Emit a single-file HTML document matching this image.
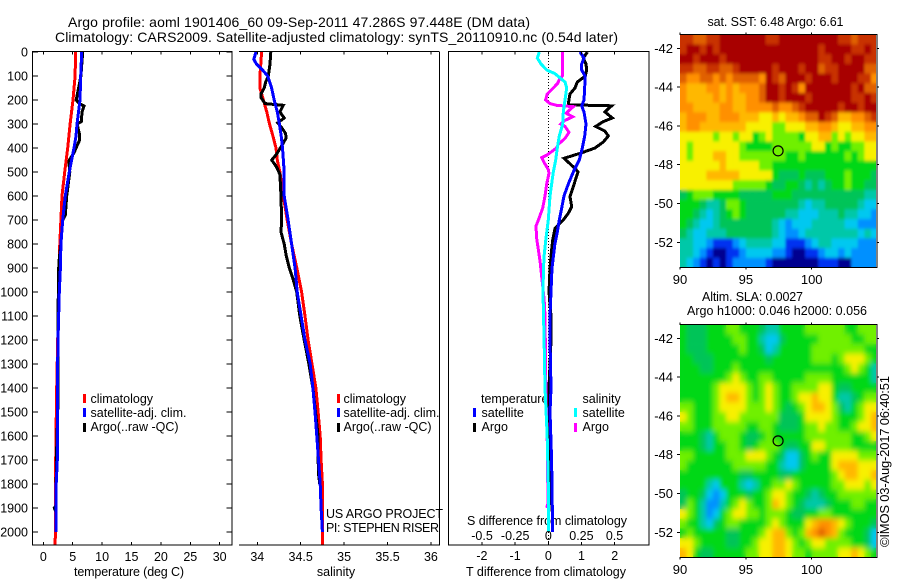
<!DOCTYPE html>
<html>
<head>
<meta charset="utf-8">
<title>Argo profile</title>
<style>
html,body{margin:0;padding:0;background:#fff;}
svg{display:block;font-family:"Liberation Sans",sans-serif;}
text{fill:#000;font-size:12.5px;}
</style>
</head>
<body>
<svg id="chart" width="900" height="580" viewBox="0 0 900 580" xmlns="http://www.w3.org/2000/svg">
<defs>
<filter id="sst-smooth" filterUnits="userSpaceOnUse" x="660" y="15" width="240" height="272"><feGaussianBlur stdDeviation="1.4 1.7"/></filter>
<filter id="sla-smooth" filterUnits="userSpaceOnUse" x="660" y="305" width="240" height="272"><feGaussianBlur stdDeviation="2.4 3"/></filter>
<clipPath id="sst-clip"><rect x="680" y="35" width="196" height="232"/></clipPath>
<clipPath id="sla-clip"><rect x="680" y="325" width="196" height="232"/></clipPath>
</defs>
<rect width="900" height="580" fill="#fff"/>
<text x="68" y="27" style="font-size:14px" textLength="462">Argo profile: aoml 1901406_60 09-Sep-2011 47.286S 97.448E (DM data)</text>
<text x="55" y="42" style="font-size:14px" textLength="563">Climatology: CARS2009. Satellite-adjusted climatology: synTS_20110910.nc (0.54d later)</text>
<text x="129" y="576" text-anchor="middle" textLength="110">temperature (deg C)</text>
<text x="336" y="576" text-anchor="middle">salinity</text>
<text x="546" y="576" text-anchor="middle" textLength="160">T difference from climatology</text>
<text x="547" y="525" text-anchor="middle" textLength="160">S difference from climatology</text>
<text x="90.5" y="403">climatology</text>
<text x="90.5" y="417" textLength="96">satellite-adj. clim.</text>
<text x="90.5" y="431" textLength="88">Argo(..raw -QC)</text>
<text x="343.5" y="403">climatology</text>
<text x="343.5" y="417" textLength="96">satellite-adj. clim.</text>
<text x="343.5" y="431" textLength="88">Argo(..raw -QC)</text>
<text x="481" y="403">temperature</text>
<text x="582.5" y="403">salinity</text>
<text x="481.5" y="417">satellite</text>
<text x="481.5" y="431">Argo</text>
<text x="582.5" y="417">satellite</text>
<text x="582.5" y="431">Argo</text>
<text x="326" y="518" textLength="117">US ARGO PROJECT</text>
<text x="326" y="532" textLength="113">PI: STEPHEN RISER</text>
<text x="707.5" y="26" textLength="136">sat. SST: 6.48 Argo: 6.61</text>
<text x="702" y="301" textLength="101">Altim. SLA: 0.0027</text>
<text x="687" y="315" textLength="180">Argo h1000: 0.046 h2000: 0.056</text>
<text transform="translate(889,547) rotate(-90)" style="font-size:13px" textLength="171">©IMOS 03-Aug-2017 06:40:51</text>
</svg>
<script>
// ---------- shared axis values ----------
const depthTicks = [0,100,200,300,400,500,600,700,800,900,1000,1100,1200,1300,1400,1500,1600,1700,1800,1900,2000];
const tempTicks = [0,5,10,15,20,25,30];
const salTicks = [34,34.5,35,35.5,36];
const salTickLabels = ['34','34.5','35','35.5','36'];
const tDiffTicks = [-2,-1,0,1,2];
const sDiffTicks = [-0.5,-0.25,0,0.25,0.5];
const sDiffTickLabels = ['-0.5','-0.25','0','0.25','0.5'];
const lonTicks = [90,95,100];
const latTicks = [42,44,46,48,50,52];

// ---------- temperature profile ----------
const tClimDepth = [0,100,200,300,400,500,600,700,800,900,1000,1200,1400,1650,2000,2054];
const tClim = [5.5,5.4,5.05,4.55,4.15,3.64,3.18,3.0,2.8,2.67,2.62,2.45,2.28,2.12,2.05,2.0];
const tSatDepth = [0,100,200,300,350,400,500,600,700,800,900,1000,1200,1400,1700,1800,2000];
const tSat = [6.53,6.36,6.24,5.73,5.56,5.22,4.42,3.74,3.3,3.0,2.9,2.72,2.5,2.38,2.38,2.2,2.2];
const tArgoDepth = [0,100,150,200,215,225,250,290,300,340,370,400,420,450,460,500,600,680,700,800,860,900,1000,1200,1450,1700,1850,1890,1900,1915];
const tArgo = [6.7,6.4,6.0,5.6,6.1,6.92,6.58,6.46,5.75,6.12,6.12,5.56,5.22,4.42,4.35,4.5,3.98,3.75,3.3,3.0,2.72,2.62,2.55,2.5,2.5,2.22,2.18,2.15,1.87,2.15];

// ---------- salinity profile ----------
const sClimDepth = [0,50,100,150,200,250,300,350,400,450,500,600,700,800,900,1000,1100,1200,1300,1400,1500,1600,1700,1800,2054];
const sClim = [34.05,34.04,34.03,34.03,34.07,34.11,34.14,34.18,34.215,34.23,34.26,34.3,34.345,34.395,34.455,34.51,34.55,34.585,34.63,34.675,34.7,34.725,34.735,34.75,34.75];
const sSatDepth = [0,30,50,75,100,150,200,250,300,350,400,500,600,700,800,900,1000,1100,1200,1300,1400,1500,1600,1700,1800,1900,2000];
const sSat = [33.985,33.96,33.99,34.06,34.12,34.165,34.195,34.23,34.255,34.275,34.29,34.31,34.31,34.355,34.395,34.435,34.46,34.505,34.55,34.61,34.64,34.665,34.685,34.705,34.725,34.735,34.75];
const sArgoDepth = [0,50,100,125,150,175,190,215,222,250,275,295,315,340,360,385,425,450,480,510,600,700,750,800,850,900,950,1000,1100,1200,1300,1400,1600,1750,1800];
const sArgo = [34.155,34.146,34.127,34.097,34.08,34.043,34.043,34.09,34.3,34.26,34.31,34.235,34.28,34.327,34.33,34.29,34.223,34.166,34.223,34.26,34.273,34.28,34.273,34.31,34.334,34.369,34.415,34.454,34.49,34.54,34.595,34.64,34.7,34.703,34.72];

// ---------- difference profiles ----------
const dTSatDepth = [0,25,50,75,100,150,200,225,250,300,350,400,450,500,550,600,650,700,750,800,900,1000,1100,1200,1400,1500,1700,1900,2000];
const dTSat = [0.955,1.075,1.006,1.006,1.105,1.096,1.075,1.006,1.075,1.135,1.096,1.024,0.934,0.753,0.602,0.473,0.404,0.331,0.271,0.2,0.11,0.08,0.05,0.05,0.08,0.05,0.1,0.12,0.12];
const dTArgoDepth = [0,25,50,75,100,125,150,175,190,220,224,236,250,275,290,310,330,350,375,400,420,443,485,499,561,603,644,672,700,735,783,850,900,1000,1100,1200,1400,1500,1750,1915];
const dTArgo = [1.175,1.054,1.136,1.157,1.114,0.873,0.804,0.654,0.633,0.6,1.91,1.807,1.708,1.928,1.657,1.428,1.708,1.807,1.657,1.407,1.006,0.473,0.804,0.895,0.753,0.654,0.705,0.602,0.452,0.202,0.133,0.08,0.05,0.02,0.08,0.08,0.02,0.01,0.02,0.02];
const dSArgoDepth = [0,100,115,130,150,175,200,215,222,228,240,255,270,285,300,310,335,360,385,400,430,440,460,490,505,550,600,650,700,725,775,870,1030,1100,1450,1600,1880,1900];
const dSArgo = [0.106,0.106,0.083,0.071,0.038,-0.008,-0.02,0.013,0.063,0.189,0.164,0.134,0.184,0.126,0.094,0.126,0.156,0.126,0.075,0.063,-0.012,-0.05,-0.032,0,0.005,-0.012,-0.025,-0.042,-0.075,-0.093,-0.088,-0.063,-0.032,-0.025,-0.017,-0.008,-0.002,-0.012];
const dSSatDepth = [0,25,50,75,90,125,150,200,250,300,350,400,450,500,600,700,775,850,900,1000,1200,1400,1600,1800,2000];
const dSSat = [-0.068,-0.083,-0.055,-0.012,0.05,0.126,0.139,0.126,0.113,0.109,0.083,0.068,0.056,0.038,0.013,0,-0.017,-0.032,-0.036,-0.04,-0.032,-0.025,-0.008,0,0.001];

// ---------- maps ----------
const floatLon = 97.448;
const floatLat = 47.286;
const sstLevels = [
[12,12,11,11,12,12,13,13,13,13,13,13,13,12,12,13,13,13,13,13,13,13,13,13,12,12,11,12,12,12],
[12,13,13,12,13,12,13,13,13,13,13,13,13,13,13,13,13,13,13,13,13,12,13,13,13,13,12,12,13,12],
[13,13,12,13,13,13,12,13,13,13,13,13,13,13,13,13,13,13,13,13,13,12,12,13,13,12,13,13,12,12],
[12,12,11,11,12,12,11,11,12,13,13,13,13,13,12,13,13,13,12,13,13,11,12,12,13,13,13,13,11,11],
[11,10,10,11,11,10,11,10,11,11,11,11,10,13,12,11,13,13,13,12,13,13,13,12,13,13,13,12,12,10],
[10,9,9,9,10,10,9,10,9,10,10,10,11,13,13,12,13,12,10,13,13,13,13,13,13,13,12,13,11,11],
[10,9,9,9,9,10,9,10,9,9,10,10,11,13,13,12,13,13,13,12,13,13,13,13,13,13,12,12,13,12],
[10,10,9,9,9,9,10,10,9,9,10,10,10,10,11,10,10,11,12,13,13,13,13,13,12,13,13,12,13,13],
[9,10,10,10,9,9,10,10,10,9,9,9,8,8,9,8,9,9,10,11,11,13,12,11,9,9,10,10,11,12],
[9,10,10,9,9,9,9,9,9,9,8,8,8,8,7,7,8,8,8,9,9,10,10,9,8,8,9,9,10,10],
[8,8,8,8,8,7,8,8,7,8,8,6,7,8,7,7,7,7,6,8,8,9,9,7,8,7,8,8,9,9],
[8,7,8,8,8,8,8,8,8,7,6,6,6,6,7,7,7,7,7,7,8,8,6,7,6,6,7,7,8,8],
[8,7,8,8,8,9,9,8,8,7,7,7,7,7,7,7,6,6,7,6,6,6,6,6,6,7,6,7,8,8],
[8,8,8,8,8,8,9,8,8,8,8,8,7,7,6,6,6,6,6,6,6,6,6,6,6,6,6,6,6,6],
[8,8,8,8,9,9,9,9,9,8,8,8,8,8,6,5,5,5,6,5,5,5,6,6,6,7,6,6,6,5],
[8,8,8,8,8,8,8,8,7,7,7,7,7,6,5,5,6,6,5,4,5,4,5,6,6,7,6,6,5,5],
[5,6,7,7,7,6,6,6,6,5,5,5,5,5,6,6,6,5,5,5,5,5,5,5,5,5,5,5,4,4],
[6,6,6,5,4,4,5,7,7,6,5,5,5,5,5,5,5,5,4,3,4,4,5,5,5,5,5,4,3,3],
[6,6,5,4,3,4,5,6,7,6,5,5,5,5,5,5,4,4,3,3,3,4,4,4,5,4,4,3,3,2],
[6,5,4,3,3,4,5,5,5,5,5,5,5,5,4,3,2,3,3,3,4,4,4,4,4,3,3,2,2,2],
[5,4,3,3,4,4,4,5,5,5,5,5,5,5,4,3,2,2,3,4,4,4,4,4,4,4,4,3,4,3],
[4,4,3,3,2,1,1,1,2,3,4,4,4,4,3,3,1,1,1,2,3,4,4,3,3,3,3,2,2,2],
[4,4,3,2,1,0,0,1,1,2,3,3,3,3,2,2,1,0,0,1,1,2,3,3,2,3,2,2,2,2],
[4,3,2,1,0,1,0,1,2,2,2,2,2,1,0,0,0,0,0,0,0,1,1,1,0,0,2,2,2,2]
];
const slaLevels = [
[6,5,5,5,6,6,6,7,7,6,6,6,5,4,4,6,6,6,6,7,7,7,7,7,7,6,6,7,7,7],
[6,5,5,5,6,6,6,6,7,7,6,6,4,3,3,5,6,6,6,6,6,7,7,7,7,7,6,6,7,7],
[6,5,5,5,6,6,6,6,6,7,6,6,5,3,4,6,6,6,6,6,7,7,7,7,7,7,7,7,6,6],
[6,6,5,5,5,6,6,6,6,6,6,6,6,5,6,6,6,6,6,6,7,7,7,6,7,8,8,8,7,6],
[6,6,6,5,5,6,6,6,7,6,6,6,6,6,6,6,6,6,6,6,6,6,6,6,6,7,8,7,6,4],
[6,6,6,6,6,6,6,7,8,7,6,6,7,7,6,6,6,6,6,7,7,7,7,6,6,6,6,6,6,4],
[6,6,6,6,6,7,8,8,8,8,7,6,7,8,7,6,6,7,7,7,7,8,8,6,5,5,6,6,6,6],
[6,6,6,6,6,7,8,9,9,8,7,6,7,8,7,6,6,7,8,8,9,8,8,6,4,4,5,6,7,7],
[7,7,6,6,6,7,8,8,8,8,7,7,7,8,7,6,5,6,7,8,9,9,8,7,5,4,6,7,8,8],
[8,7,6,6,6,7,7,8,8,7,7,7,7,7,7,5,5,5,6,8,8,8,8,7,6,6,6,7,8,9],
[7,7,6,6,6,7,7,7,7,7,6,6,7,7,6,5,5,5,6,7,7,8,7,7,6,6,7,8,8,9],
[6,6,6,5,4,6,7,7,7,6,5,5,6,7,6,6,6,6,6,7,7,7,7,7,7,7,6,6,7,8],
[6,6,6,5,4,6,6,7,7,6,5,6,7,7,7,6,5,5,6,6,8,8,7,7,7,7,6,6,6,6],
[7,7,6,6,6,6,6,7,7,7,8,8,8,7,6,5,3,3,5,6,7,6,6,8,8,8,8,7,7,7],
[7,6,6,6,6,6,6,6,7,7,7,7,7,6,6,4,3,3,5,6,6,6,6,8,9,9,9,8,8,8],
[6,6,6,6,6,6,6,6,6,5,5,6,6,6,6,5,5,6,6,6,6,6,6,7,8,9,9,8,8,9],
[6,6,6,6,4,3,6,6,6,4,3,4,6,6,7,7,8,7,6,6,6,6,6,7,7,8,8,8,7,8],
[5,6,6,5,3,2,3,6,6,6,5,6,6,7,8,8,7,6,6,5,4,5,6,6,7,7,7,7,7,7],
[5,7,6,4,2,2,4,6,7,8,7,6,6,7,9,8,7,6,5,4,4,4,5,6,6,6,7,7,6,6],
[8,7,6,4,2,3,6,7,8,8,7,7,6,7,7,7,6,5,5,6,6,7,7,6,6,6,6,6,6,6],
[7,6,6,4,3,5,6,7,7,6,6,6,6,7,8,7,6,6,6,8,9,10,10,9,8,7,6,6,6,5],
[6,7,6,6,6,6,6,5,5,6,6,6,7,8,9,9,7,6,7,9,10,11,10,9,7,6,6,6,5,3],
[8,8,7,6,6,6,6,5,5,6,6,7,8,8,9,9,8,7,6,7,8,8,7,7,7,7,6,6,5,3],
[9,8,6,5,5,6,6,6,6,6,7,7,8,8,9,9,8,7,7,6,7,7,7,7,8,8,9,8,7,6]
];
const colorRamp = ['#000090','#0030f0','#0090ff','#00c8f0','#00c8a8','#00c458','#00d818','#70f000','#f8f000','#ffb800','#ff9000','#e06000','#c83000','#a80000'];

// ---------- scales ----------
const NS = 'http://www.w3.org/2000/svg';
const svg = document.getElementById('chart');
const yDepth = d => 52 + d * 0.24;
const xTemp = v => 43.3 + v * 5.88;
const xSal = v => 257.3 + (v - 34) * 86.8;
const xDT = v => 548.3 + v * 33.2;
const xDS = v => 548.3 + v * 132.5;
const xLon = v => 680 + (v - 90) * 13.17;
const yLat1 = v => 48.3 + (v - 42) * 19.4;
const yLat2 = v => 338.3 + (v - 42) * 19.4;

function seg(name, x1, y1, x2, y2) {
  const el = document.createElementNS(NS, 'line');
  
  
  el.setAttribute('x1', x1);
  el.setAttribute('y1', y1);
  el.setAttribute('x2', x2);
  el.setAttribute('y2', y2);
  el.setAttribute('stroke', '#000');
  el.setAttribute('stroke-width', '1');
  el.setAttribute('shape-rendering', 'crispEdges');
  svg.appendChild(el);
  return el;
}
function label(name, x, y, str, anchor, size) {
  const el = document.createElementNS(NS, 'text');
  
  
  el.setAttribute('x', x);
  el.setAttribute('y', y);
  el.setAttribute('text-anchor', anchor);
  el.style.fontSize = size + 'px';
  el.textContent = str;
  svg.appendChild(el);
  return el;
}
function profile(name, depths, values, xScale, color) {
  const el = document.createElementNS(NS, 'polyline');
  
  
  el.setAttribute('points', depths.map((d, i) => xScale(values[i]).toFixed(1) + ',' + yDepth(d).toFixed(1)).join(' '));
  el.setAttribute('fill', 'none');
  el.setAttribute('stroke', color);
  el.setAttribute('stroke-width', '3');
  el.setAttribute('stroke-linejoin', 'miter');
  el.setAttribute('shape-rendering', 'crispEdges');
  svg.appendChild(el);
}
function swatch(name, x, y, color) {
  const el = document.createElementNS(NS, 'rect');
  
  
  el.setAttribute('x', x);
  el.setAttribute('y', y);
  el.setAttribute('width', 3);
  el.setAttribute('height', 9);
  el.setAttribute('fill', color);
  svg.appendChild(el);
}
function heatmap(name, grid, yLat, top, bottom, clipId, filterId) {
  const outer = document.createElementNS(NS, 'g');
  
  
  outer.setAttribute('clip-path', 'url(#' + clipId + ')');
  const g = document.createElementNS(NS, 'g');
  
  
  grid.forEach((row, j) => {
    row.forEach((level, i) => {
      const cell = document.createElementNS(NS, 'rect');
      
      
      const x0 = xLon(90 + i * 0.5);
      const x1 = Math.min(xLon(90 + (i + 1) * 0.5), 876);
      const y0 = Math.max(yLat(41.3 + j * 0.5), top);
      const y1 = Math.min(yLat(41.3 + (j + 1) * 0.5), bottom);
      cell.setAttribute('x', x0.toFixed(2));
      cell.setAttribute('y', y0.toFixed(2));
      cell.setAttribute('width', (x1 - x0 + 0.3).toFixed(2));
      cell.setAttribute('height', (y1 - y0 + 0.3).toFixed(2));
      cell.setAttribute('fill', colorRamp[level]);
      g.appendChild(cell);
    });
  });
  outer.appendChild(g);
  const smooth = g.cloneNode(true);
  
  smooth.setAttribute('filter', 'url(#' + filterId + ')');
  outer.appendChild(smooth);
  svg.appendChild(outer);
}
function mapAxes(prefix, yLat, top, bottom, xLabelY) {
  seg(prefix + '-top-border', 679.5, top - 0.5, 877.5, top - 0.5);
  seg(prefix + '-bottom-border', 679.5, bottom + 0.5, 877.5, bottom + 0.5);
  seg(prefix + '-right-border', 877, top - 0.5, 877, bottom + 0.5);
  lonTicks.forEach(v => {
    seg(prefix + '-lon-tick', xLon(v), top - 2.5, xLon(v), top);
    seg(prefix + '-lon-tick', xLon(v), bottom, xLon(v), bottom + 2.5);
    label(prefix + '-lon-label', xLon(v), xLabelY, String(v), 'middle', 13);
  });
  latTicks.forEach(v => {
    seg(prefix + '-lat-tick', 677, yLat(v), 680, yLat(v));
    seg(prefix + '-lat-tick', 877, yLat(v), 879, yLat(v));
    label(prefix + '-lat-label', 673, yLat(v) + 4.5, '-' + v, 'end', 13);
  });
  const c = document.createElementNS(NS, 'circle');
  
  
  c.setAttribute('cx', xLon(floatLon));
  c.setAttribute('cy', yLat(floatLat));
  c.setAttribute('r', 5);
  c.setAttribute('fill', 'none');
  c.setAttribute('stroke', '#000');
  c.setAttribute('stroke-width', '1.2');
  svg.appendChild(c);
}

// ---------- temperature panel ----------
profile('temperature-climatology-line', tClimDepth, tClim, xTemp, '#ff0000');
profile('temperature-argo-line', tArgoDepth, tArgo, xTemp, '#000000');
profile('temperature-satellite-line', tSatDepth, tSat, xTemp, '#0000ff');
seg('temperature-panel-left-axis', 32.5, 52, 32.5, 545.5);
seg('temperature-panel-right-axis', 232, 52, 232, 545.5);
seg('temperature-panel-top-axis', 32, 51.5, 232.5, 51.5);
seg('temperature-panel-bottom-axis', 32, 545, 232.5, 545);
depthTicks.forEach(d => {
  seg('depth-tick-left', 32.5, yDepth(d), 38, yDepth(d));
  seg('depth-tick-right', 226.5, yDepth(d), 232, yDepth(d));
  label('depth-tick-label', 28, yDepth(d) + 4.5, String(d), 'end', 12.5);
});
tempTicks.forEach(v => {
  seg('temperature-tick-top', xTemp(v), 52, xTemp(v), 54.5);
  seg('temperature-tick-bottom', xTemp(v), 542, xTemp(v), 545);
  label('temperature-tick-label', xTemp(v), 561, String(v), 'middle', 12.5);
});
swatch('legend-climatology-swatch', 83, 394, '#ff0000');
swatch('legend-satellite-swatch', 83, 408, '#0000ff');
swatch('legend-argo-swatch', 83, 423, '#000000');

// ---------- salinity panel ----------
profile('salinity-climatology-line', sClimDepth, sClim, xSal, '#ff0000');
profile('salinity-argo-line', sArgoDepth, sArgo, xSal, '#000000');
profile('salinity-satellite-line', sSatDepth, sSat, xSal, '#0000ff');
seg('salinity-panel-right-axis', 439.5, 52, 439.5, 545.5);
seg('salinity-panel-top-axis', 239, 51.5, 439.5, 51.5);
seg('salinity-panel-bottom-axis', 239, 545, 439.5, 545);
salTicks.forEach((v, i) => {
  seg('salinity-tick-top', xSal(v), 52, xSal(v), 54.5);
  seg('salinity-tick-bottom', xSal(v), 542, xSal(v), 545);
  label('salinity-tick-label', xSal(v), 561, salTickLabels[i], 'middle', 12.5);
});
swatch('legend-climatology-swatch-salinity', 337, 394, '#ff0000');
swatch('legend-satellite-swatch-salinity', 337, 408, '#0000ff');
swatch('legend-argo-swatch-salinity', 337, 423, '#000000');

// ---------- difference panel ----------
const zero = seg('zero-difference-line', 548.5, 52, 548.5, 545);
zero.setAttribute('stroke-dasharray', '1 2');
profile('t-difference-argo-line', dTArgoDepth, dTArgo, xDT, '#000000');
profile('t-difference-satellite-line', dTSatDepth, dTSat, xDT, '#0000ff');
profile('s-difference-argo-line', dSArgoDepth, dSArgo, xDS, '#ff00ff');
profile('s-difference-satellite-line', dSSatDepth, dSSat, xDS, '#00ffff');
seg('difference-panel-left-axis', 448.5, 52, 448.5, 545.5);
seg('difference-panel-right-axis', 649, 52, 649, 545.5);
seg('difference-panel-top-axis', 448, 51.5, 649.5, 51.5);
seg('difference-panel-bottom-axis', 448, 545, 649.5, 545);
tDiffTicks.forEach(v => {
  seg('t-difference-tick-top', xDT(v), 52, xDT(v), 54.5);
  seg('t-difference-tick-bottom', xDT(v), 542, xDT(v), 545);
  label('t-difference-tick-label', xDT(v), 560, String(v), 'middle', 12.5);
});
sDiffTicks.forEach((v, i) => {
  label('s-difference-tick-label', xDS(v), 540, sDiffTickLabels[i], 'middle', 12.5);
});
swatch('legend-t-satellite-swatch', 473, 408, '#0000ff');
swatch('legend-t-argo-swatch', 473, 423, '#000000');
swatch('legend-s-satellite-swatch', 574, 408, '#00ffff');
swatch('legend-s-argo-swatch', 574, 423, '#ff00ff');

// ---------- maps ----------
heatmap('sst-heatmap', sstLevels, yLat1, 35, 267, 'sst-clip', 'sst-smooth');
mapAxes('sst-map', yLat1, 35, 267, 284);
heatmap('sla-heatmap', slaLevels, yLat2, 325, 557, 'sla-clip', 'sla-smooth');
mapAxes('sla-map', yLat2, 325, 557, 574);
</script>
</body>
</html>
